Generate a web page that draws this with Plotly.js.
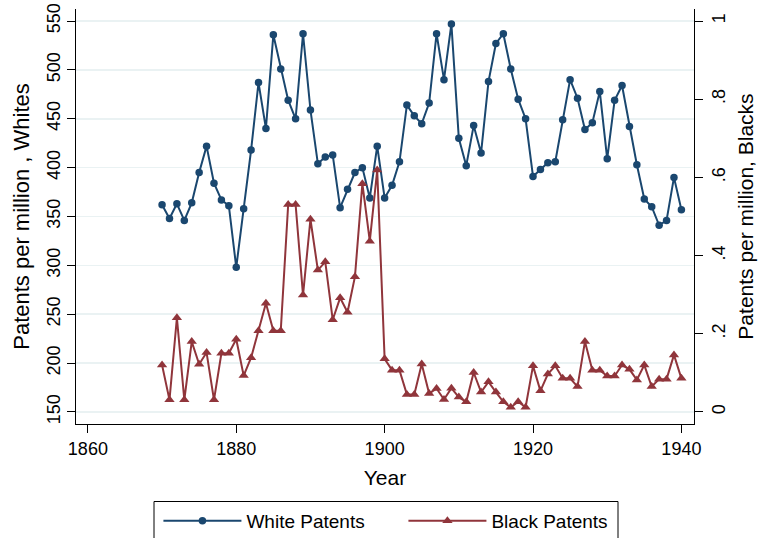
<!DOCTYPE html>
<html>
<head>
<meta charset="utf-8">
<script src="https://cdn.plot.ly/plotly-3.0.1.min.js"></script>
<style>html,body{margin:0;padding:0;background:#fff;}#chart{width:758px;height:538px;}</style>
</head>
<body>
<div id="chart"></div>
<script>
const years = [1870,1871,1872,1873,1874,1875,1876,1877,1878,1879,1880,1881,1882,1883,1884,1885,1886,1887,1888,1889,1890,1891,1892,1893,1894,1895,1896,1897,1898,1899,1900,1901,1902,1903,1904,1905,1906,1907,1908,1909,1910,1911,1912,1913,1914,1915,1916,1917,1918,1919,1920,1921,1922,1923,1924,1925,1926,1927,1928,1929,1930,1931,1932,1933,1934,1935,1936,1937,1938,1939,1940];
const whitePatents = [362,348,363,346,364,395,422,384,367,361,298,358,418,487,440,536,501,469,450,537,459,404,411,413,359,378,395,400,369,422,369,382,406,464,453,445,466,537,490,547,430,402,443,415,488,527,537,501,470,450,391,398,405,406,449,490,471,439,446,478,409,469,484,442,403,368,360,341,346,390,357];
const blackPatents = [0.120,0.031,0.241,0.031,0.180,0.122,0.152,0.031,0.150,0.150,0.186,0.093,0.139,0.208,0.278,0.208,0.208,0.531,0.531,0.299,0.493,0.363,0.384,0.236,0.292,0.255,0.346,0.584,0.437,0.619,0.136,0.107,0.107,0.045,0.045,0.123,0.047,0.060,0.032,0.061,0.038,0.026,0.101,0.051,0.077,0.051,0.026,0.012,0.026,0.012,0.118,0.054,0.097,0.118,0.086,0.086,0.065,0.180,0.107,0.107,0.092,0.092,0.120,0.109,0.082,0.120,0.065,0.084,0.084,0.146,0.086];
const xTicks = [1860,1880,1900,1920,1940];
const leftTicks = [150,200,250,300,350,400,450,500,550];
const rightTicks = [0,0.2,0.4,0.6,0.8,1];
const rightTickText = ['0','.2','.4','.6','.8','1'];

const BLUE = '#1a476f', RED = '#90353b';
const FONT = 'Liberation Sans, Arial, Helvetica, sans-serif';

const traces = [
  {x: years, y: whitePatents, name: 'White Patents', type: 'scatter', mode: 'lines+markers',
   line: {color: BLUE, width: 2}, marker: {color: BLUE, size: 7.5, symbol: 'circle'}, yaxis: 'y'},
  {x: years, y: blackPatents, name: 'Black Patents', type: 'scatter', mode: 'lines+markers',
   line: {color: RED, width: 2}, marker: {color: RED, size: 9, symbol: 'triangle-up'}, yaxis: 'y2'}
];

const layout = {
  width: 758, height: 538,
  margin: {l: 76, r: 64, t: 9, b: 114},
  paper_bgcolor: '#fff', plot_bgcolor: '#fff',
  font: {family: FONT, color: '#000', size: 18},
  showlegend: true,
  xaxis: {range: [1858.4, 1941.7], tickvals: xTicks, showgrid: false, zeroline: false, automargin: false,
    showline: true, linecolor: '#000', linewidth: 1, ticks: 'outside', ticklen: 8, tickcolor: '#000',
    tickfont: {size: 18}, title: {text: 'Year', font: {size: 21}, standoff: 12}},
  yaxis: {range: [137.7, 562.3], tickvals: leftTicks, tickangle: -90, showgrid: true, automargin: false,
    gridcolor: '#eaf2f3', gridwidth: 1.5, zeroline: false, showline: true, linecolor: '#000',
    linewidth: 1, ticks: 'outside', ticklen: 8, tickcolor: '#000', tickfont: {size: 18},
    title: {text: 'Patents per million , Whites', font: {size: 22}, standoff: 8}},
  yaxis2: {range: [-0.03075, 1.03075], overlaying: 'y', side: 'right', tickvals: rightTicks, automargin: false,
    ticktext: rightTickText, tickangle: -90, showgrid: false, zeroline: false, showline: true,
    linecolor: '#000', linewidth: 1, ticks: 'outside', ticklen: 8, tickcolor: '#000',
    tickfont: {size: 18}, title: {text: 'Patents per million, Blacks', font: {size: 21}, standoff: 10}},
  legend: {orientation: 'h', xref: 'container', yref: 'container', x: 0.209, xanchor: 'left',
    y: 0.0316, yanchor: 'middle',
    font: {size: 19}, bgcolor: 'rgba(0,0,0,0)', borderwidth: 0, entrywidth: 152, itemwidth: 78},
  shapes: [{type: 'rect', xref: 'paper', yref: 'paper', x0: (154-76)/618, x1: (618-76)/618,
    y0: (424-501.5)/415, y1: (424-550)/415,
    line: {color: '#000', width: 1}, fillcolor: 'rgba(0,0,0,0)'}]
};

Plotly.newPlot('chart', traces, layout, {staticPlot: true, displayModeBar: false});
</script>
</body>
</html>
